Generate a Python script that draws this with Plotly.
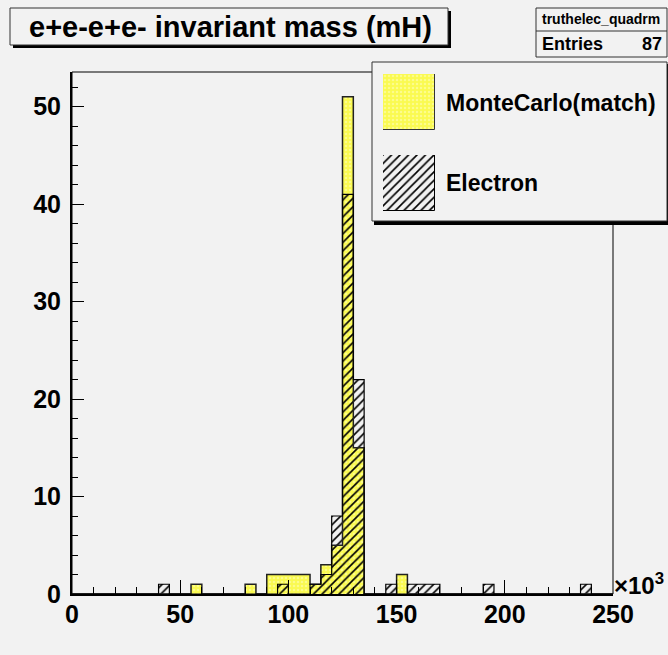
import plotly.graph_objects as go

# ---------------- data ----------------
bin_edges = [5 * i for i in range(51)]  # x10^3, 50 bins of width 5 from 0 to 250
montecarlo_match = [0, 0, 0, 0, 0, 0, 0, 0, 0, 0,
                    0, 1, 0, 0, 0, 0, 1, 0, 2, 2,
                    2, 2, 1, 3, 5, 51, 15, 0, 0, 0,
                    2, 0, 0, 0, 0, 0, 0, 0, 0, 0,
                    0, 0, 0, 0, 0, 0, 0, 0, 0, 0]
electron = [0, 0, 0, 0, 0, 0, 0, 0, 1, 0,
            0, 0, 0, 0, 0, 0, 0, 0, 0, 1,
            0, 0, 1, 2, 8, 41, 22, 0, 0, 1,
            0, 1, 1, 1, 0, 0, 0, 0, 1, 0,
            0, 0, 0, 0, 0, 0, 0, 1, 0, 0]
x_ticks = [0, 50, 100, 150, 200, 250]
y_ticks = [0, 10, 20, 30, 40, 50]
series_names = ["MonteCarlo(match)", "Electron"]
title_text = "e+e-e+e- invariant mass (mH)"
stats_name = "truthelec_quadrm"
stats_entries = 87

# ---------------- geometry ----------------
W, H = 668, 655
L, R, T, B = 72, 613, 72, 594
BG = "#f2f2f2"
YELLOW = "#fafa50"
FONT = "Liberation Sans"


def px(xp):
    return (xp - L) / (R - L)


def py(yp):
    return (B - yp) / (B - T)


centers = [(a + b) / 2 for a, b in zip(bin_edges[:-1], bin_edges[1:])]
widths = [b - a for a, b in zip(bin_edges[:-1], bin_edges[1:])]
ymax = max(max(montecarlo_match), max(electron)) * 1.05

yellow_marker = dict(color=YELLOW, line=dict(width=0),
                     pattern=dict(shape=".", fillmode="overlay", fgcolor="#fdfdc8", size=4, solidity=0.3))
hatch_pattern = dict(shape="/", fillmode="replace", size=6, solidity=0.27)

fig = go.Figure()

# MC (yellow dithered)
fig.add_trace(go.Bar(x=centers, y=montecarlo_match, width=widths, name=series_names[0],
                     marker=yellow_marker, showlegend=False))
fig.add_trace(go.Scatter(x=bin_edges, y=montecarlo_match + [0], mode="lines",
                         line=dict(color="#222222", width=1.5, shape="hv"),
                         showlegend=False, hoverinfo="skip"))
# Electron (hatched)
fig.add_trace(go.Bar(x=centers, y=electron, width=widths, name=series_names[1],
                     marker=dict(color="#000000", line=dict(width=0), pattern=hatch_pattern),
                     showlegend=False))
fig.add_trace(go.Scatter(x=bin_edges, y=electron + [0], mode="lines",
                         line=dict(color="#000000", width=1.2, shape="hv"),
                         showlegend=False, hoverinfo="skip"))

# legend swatches on auxiliary axes
sw_x = [px(383), px(435)]
fig.add_trace(go.Bar(x=[0.5], y=[1], width=[1], xaxis="x2", yaxis="y2", showlegend=False, hoverinfo="skip",
                     marker=dict(color=YELLOW, line=dict(width=1, color="#333333"),
                                 pattern=yellow_marker["pattern"])))
fig.add_trace(go.Bar(x=[0.5], y=[1], width=[1], xaxis="x3", yaxis="y3", showlegend=False, hoverinfo="skip",
                     marker=dict(color="#000000", line=dict(width=1, color="#000000"),
                                 pattern=hatch_pattern)))

shapes = []
# frame
shapes.append(dict(type="rect", xref="paper", yref="paper", x0=0, x1=1, y0=0, y1=1,
                   line=dict(color="#000000", width=1), layer="below"))
# legend box with shadow
shapes.append(dict(type="rect", xref="paper", yref="paper", x0=px(374), x1=px(700), y0=py(225), y1=py(64),
                   line=dict(width=0), fillcolor="#000000", layer="below"))
shapes.append(dict(type="rect", xref="paper", yref="paper", x0=px(372), x1=px(667), y0=py(221), y1=py(62),
                   line=dict(color="#333333", width=1), fillcolor=BG, layer="below"))
# title box with shadow
shapes.append(dict(type="rect", xref="paper", yref="paper", x0=px(13), x1=px(451), y0=py(48), y1=py(11),
                   line=dict(width=0), fillcolor="#000000", layer="above"))
shapes.append(dict(type="rect", xref="paper", yref="paper", x0=px(10), x1=px(448), y0=py(45), y1=py(8),
                   line=dict(color="#333333", width=1), fillcolor=BG, layer="above"))
# stats box
shapes.append(dict(type="rect", xref="paper", yref="paper", x0=px(536), x1=px(667), y0=py(57), y1=py(8),
                   line=dict(color="#333333", width=1), fillcolor=BG, layer="above"))
shapes.append(dict(type="line", xref="paper", yref="paper", x0=px(536), x1=px(667), y0=py(31), y1=py(31),
                   line=dict(color="#333333", width=1), layer="above"))

annotations = [
    dict(text="<b>%s</b>" % title_text, xref="paper", yref="paper", x=px(230), y=py(27),
         xanchor="center", yanchor="middle", showarrow=False, font=dict(family=FONT, size=29, color="#000")),
    dict(text="<b>%s</b>" % stats_name, xref="paper", yref="paper", x=px(601), y=py(19),
         xanchor="center", yanchor="middle", showarrow=False, font=dict(family=FONT, size=14, color="#000")),
    dict(text="<b>Entries</b>", xref="paper", yref="paper", x=px(540), y=py(44),
         xanchor="left", yanchor="middle", showarrow=False, font=dict(family=FONT, size=18, color="#000")),
    dict(text="<b>%d</b>" % stats_entries, xref="paper", yref="paper", x=px(664), y=py(44),
         xanchor="right", yanchor="middle", showarrow=False, font=dict(family=FONT, size=18, color="#000")),
    dict(text="<b>%s</b>" % series_names[0], xref="paper", yref="paper", x=px(444), y=py(103),
         xanchor="left", yanchor="middle", showarrow=False, font=dict(family=FONT, size=23, color="#000")),
    dict(text="<b>%s</b>" % series_names[1], xref="paper", yref="paper", x=px(444), y=py(183),
         xanchor="left", yanchor="middle", showarrow=False, font=dict(family=FONT, size=23, color="#000")),
    dict(text="<b>×10<sup>3</sup></b>", xref="paper", yref="paper", x=px(612), y=py(584),
         xanchor="left", yanchor="middle", showarrow=False, font=dict(family=FONT, size=24, color="#000")),
]

fig.update_layout(
    width=W, height=H, margin=dict(l=L, r=W - R, t=T, b=H - B, pad=0), autosize=False,
    paper_bgcolor=BG, plot_bgcolor=BG, barmode="overlay", bargap=0,
    shapes=shapes, annotations=annotations, showlegend=False,
    xaxis=dict(range=[bin_edges[0], bin_edges[-1]], tickvals=x_ticks, ticktext=[str(v) for v in x_ticks],
               ticks="inside", ticklen=14, tickwidth=1, tickcolor="#000",
               minor=dict(dtick=10, tick0=0, ticks="inside", ticklen=7, tickwidth=1, tickcolor="#000"),
               showline=True, linecolor="#000", linewidth=2, showgrid=False, zeroline=False,
               tickfont=dict(family=FONT, size=25, color="#000", weight="bold"), ticklabelstandoff=-3),
    yaxis=dict(range=[0, ymax], tickvals=y_ticks, ticktext=[str(v) for v in y_ticks],
               ticks="inside", ticklen=12, tickwidth=1, tickcolor="#000",
               minor=dict(dtick=2, tick0=0, ticks="inside", ticklen=6, tickwidth=1, tickcolor="#000"),
               showline=True, linecolor="#000", linewidth=2, showgrid=False, zeroline=False,
               tickfont=dict(family=FONT, size=25, color="#000", weight="bold"), ticklabelstandoff=4),
    xaxis2=dict(domain=sw_x, range=[0, 1], visible=False, anchor="y2"),
    yaxis2=dict(domain=[py(130), py(74)], range=[0, 1], visible=False, anchor="x2"),
    xaxis3=dict(domain=sw_x, range=[0, 1], visible=False, anchor="y3"),
    yaxis3=dict(domain=[py(211), py(155)], range=[0, 1], visible=False, anchor="x3"),
)

fig.write_html("out.html")
